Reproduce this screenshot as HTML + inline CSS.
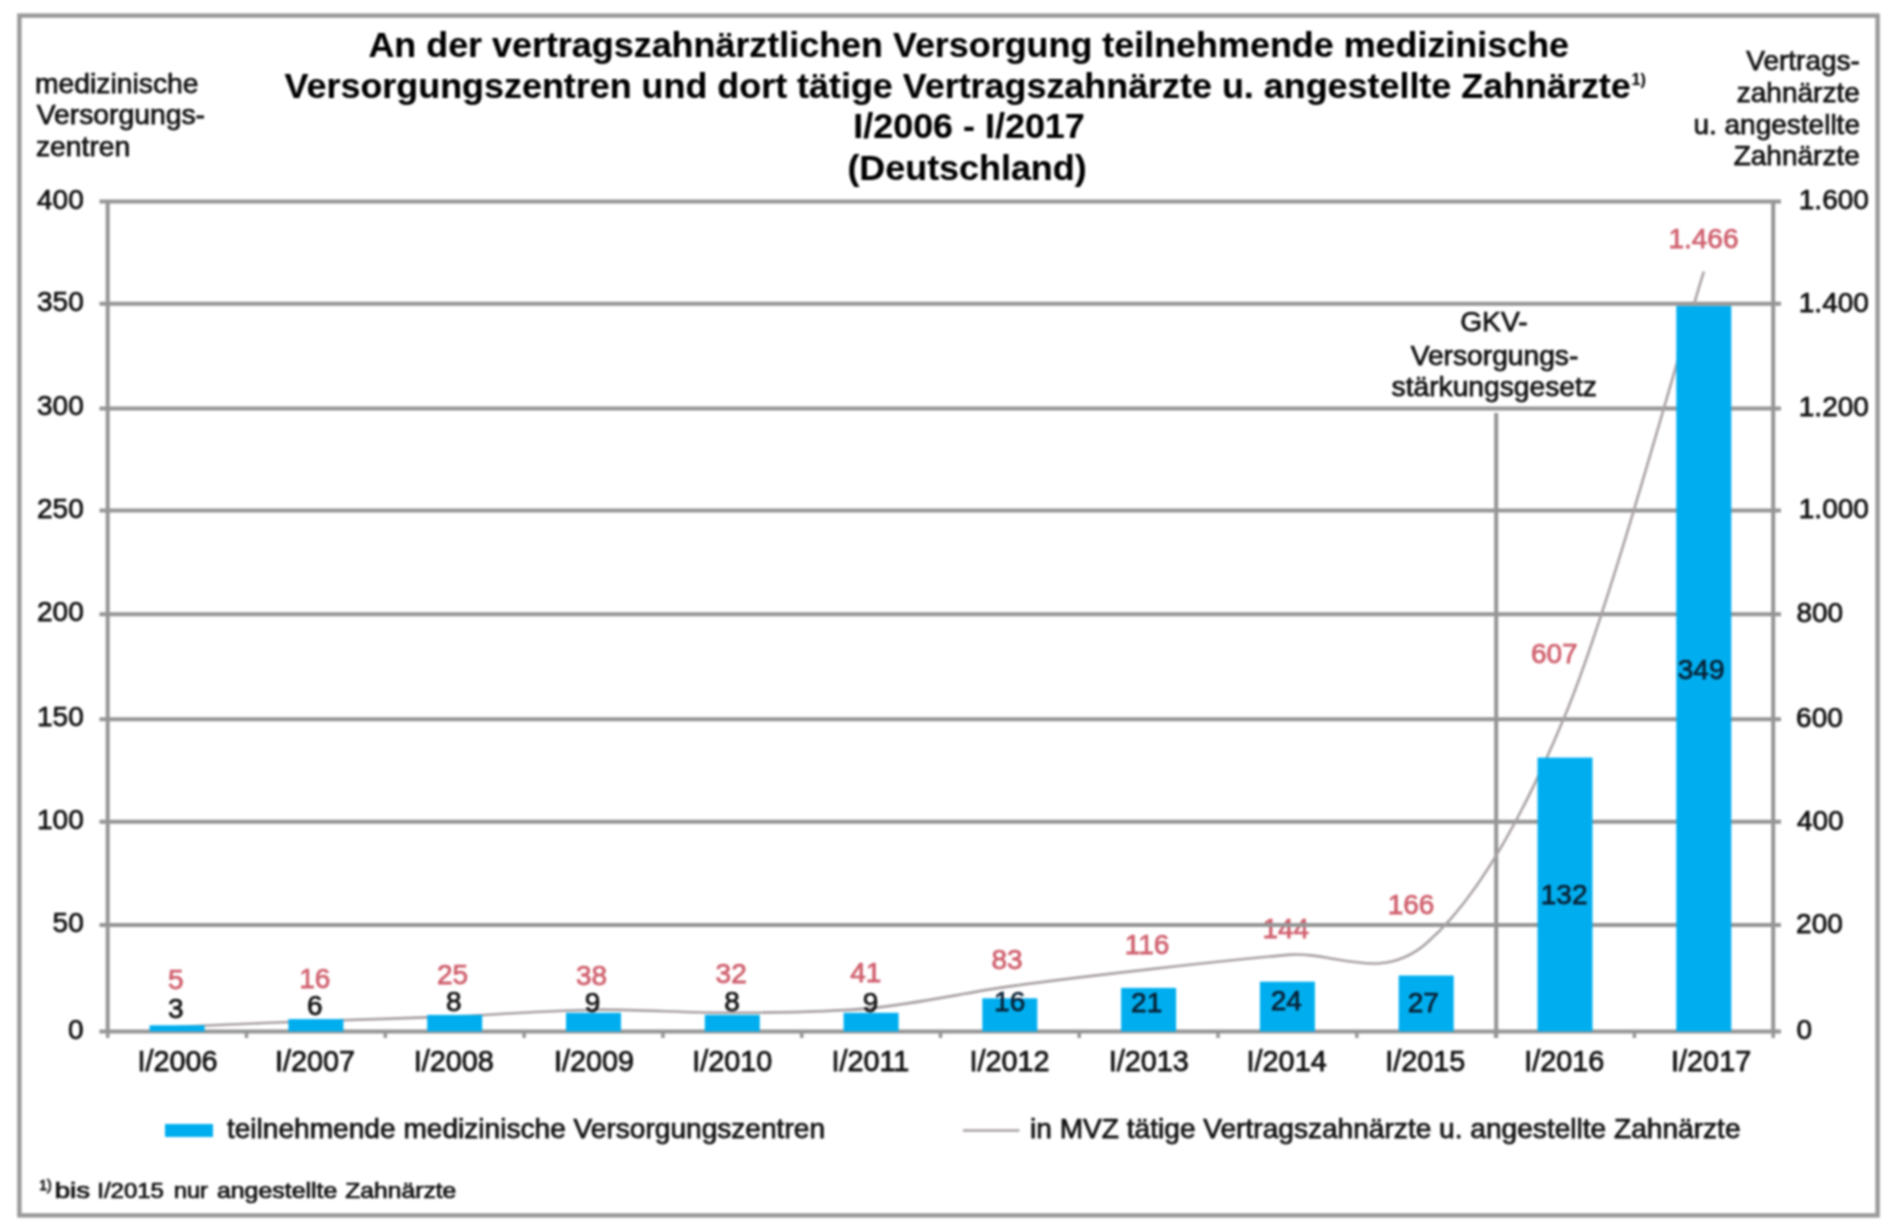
<!DOCTYPE html>
<html><head><meta charset="utf-8"><title>MVZ Zahnärzte</title>
<style>
html,body{margin:0;padding:0;background:#fff;}
body{width:1900px;height:1229px;overflow:hidden;}
svg{display:block;font-family:"Liberation Sans", sans-serif;filter:blur(0.9px);}
</style></head><body>
<svg width="1900" height="1229" viewBox="0 0 1900 1229">
<rect width="1900" height="1229" fill="#fff"/>
<rect x="19.4" y="15.6" width="1858.2" height="1199.8" fill="none" stroke="#999" stroke-width="4.4"/>
<line x1="99.5" y1="1031.5" x2="1781" y2="1031.5" stroke="#959595" stroke-width="4.0"/>
<line x1="99.5" y1="925" x2="1781" y2="925" stroke="#959595" stroke-width="4.0"/>
<line x1="99.5" y1="821.8" x2="1781" y2="821.8" stroke="#959595" stroke-width="4.0"/>
<line x1="99.5" y1="719.3" x2="1781" y2="719.3" stroke="#959595" stroke-width="4.0"/>
<line x1="99.5" y1="614.3" x2="1781" y2="614.3" stroke="#959595" stroke-width="4.0"/>
<line x1="99.5" y1="510.6" x2="1781" y2="510.6" stroke="#959595" stroke-width="4.0"/>
<line x1="99.5" y1="408.4" x2="1781" y2="408.4" stroke="#959595" stroke-width="4.0"/>
<line x1="99.5" y1="303.7" x2="1781" y2="303.7" stroke="#959595" stroke-width="4.0"/>
<line x1="99.5" y1="201.6" x2="1781" y2="201.6" stroke="#959595" stroke-width="4.0"/>
<line x1="107.7" y1="1031.5" x2="107.7" y2="1038.0" stroke="#959595" stroke-width="3.5"/>
<line x1="246.5" y1="1031.5" x2="246.5" y2="1038.0" stroke="#959595" stroke-width="3.5"/>
<line x1="385.3" y1="1031.5" x2="385.3" y2="1038.0" stroke="#959595" stroke-width="3.5"/>
<line x1="524.1" y1="1031.5" x2="524.1" y2="1038.0" stroke="#959595" stroke-width="3.5"/>
<line x1="662.9" y1="1031.5" x2="662.9" y2="1038.0" stroke="#959595" stroke-width="3.5"/>
<line x1="801.7" y1="1031.5" x2="801.7" y2="1038.0" stroke="#959595" stroke-width="3.5"/>
<line x1="940.5" y1="1031.5" x2="940.5" y2="1038.0" stroke="#959595" stroke-width="3.5"/>
<line x1="1079.2" y1="1031.5" x2="1079.2" y2="1038.0" stroke="#959595" stroke-width="3.5"/>
<line x1="1218.0" y1="1031.5" x2="1218.0" y2="1038.0" stroke="#959595" stroke-width="3.5"/>
<line x1="1356.8" y1="1031.5" x2="1356.8" y2="1038.0" stroke="#959595" stroke-width="3.5"/>
<line x1="1495.6" y1="1031.5" x2="1495.6" y2="1038.0" stroke="#959595" stroke-width="3.5"/>
<line x1="1634.4" y1="1031.5" x2="1634.4" y2="1038.0" stroke="#959595" stroke-width="3.5"/>
<line x1="1773.2" y1="1031.5" x2="1773.2" y2="1038.0" stroke="#959595" stroke-width="3.5"/>
<line x1="107.7" y1="200.2" x2="107.7" y2="1033.0" stroke="#959595" stroke-width="4.0"/>
<line x1="1773.2" y1="200.2" x2="1773.2" y2="1033.0" stroke="#959595" stroke-width="4.0"/>
<line x1="1496.2" y1="413" x2="1496.2" y2="1038" stroke="#959595" stroke-width="4.0"/>
<path d="M177.1,1026.7 C200.2,1025.8 269.6,1022.8 315.9,1021.0 C362.2,1019.3 408.4,1018.3 454.7,1016.4 C500.9,1014.5 547.2,1010.3 593.5,1009.7 C639.7,1009.1 686.0,1013.0 732.3,1012.8 C778.5,1012.5 824.8,1012.5 871.1,1008.1 C917.3,1003.7 963.6,992.9 1009.8,986.4 C1056.1,979.9 1102.4,974.6 1148.6,969.4 C1194.9,964.1 1241.2,959.2 1287.4,954.9 C1333.7,950.6 1380.0,983.4 1426.2,943.5 C1472.5,903.6 1518.7,827.6 1565.0,715.6 C1611.3,603.6 1680.7,345.7 1703.8,271.7" fill="none" stroke="#a9a1a3" stroke-width="2.6" stroke-linejoin="round"/>
<rect x="149.6" y="1025.3" width="55" height="6.2" fill="#00aeef"/>
<rect x="288.4" y="1019.1" width="55" height="12.4" fill="#00aeef"/>
<rect x="427.2" y="1014.9" width="55" height="16.6" fill="#00aeef"/>
<rect x="566.0" y="1012.8" width="55" height="18.7" fill="#00aeef"/>
<rect x="704.8" y="1014.9" width="55" height="16.6" fill="#00aeef"/>
<rect x="843.6" y="1012.8" width="55" height="18.7" fill="#00aeef"/>
<rect x="982.3" y="998.3" width="55" height="33.2" fill="#00aeef"/>
<rect x="1121.1" y="987.9" width="55" height="43.6" fill="#00aeef"/>
<rect x="1259.9" y="981.7" width="55" height="49.8" fill="#00aeef"/>
<rect x="1398.7" y="975.5" width="55" height="56.0" fill="#00aeef"/>
<rect x="1537.5" y="757.6" width="55" height="273.9" fill="#00aeef"/>
<rect x="1676.3" y="306.0" width="55" height="725.5" fill="#00aeef"/>
<rect x="165" y="1124" width="48" height="13" fill="#00aeef"/>
<line x1="963" y1="1130.5" x2="1019.5" y2="1130.5" stroke="#a9a1a3" stroke-width="2.6"/>
<text x="368.4" y="57.4" font-size="35.9" font-weight="bold" fill="#000" stroke="#000" stroke-width="0.15">An der vertragszahnärztlichen Versorgung teilnehmende medizinische</text>
<text x="284.6" y="98.4" font-size="35.9" font-weight="bold" fill="#000" stroke="#000" stroke-width="0.15">Versorgungszentren und dort tätige Vertragszahnärzte u. angestellte Zahnärzte</text>
<text x="1631.6" y="84.6" font-size="16" font-weight="bold" fill="#000" stroke="#000" stroke-width="0.15">1)</text>
<text x="853.3" y="137.6" font-size="35.9" font-weight="bold" fill="#000" stroke="#000" stroke-width="0.15">I/2006 - I/2017</text>
<text x="847.4" y="179.6" font-size="35.9" font-weight="bold" fill="#000" stroke="#000" stroke-width="0.15">(Deutschland)</text>
<text x="35.0" y="92.7" font-size="28.3" font-weight="normal" fill="#111" stroke="#111" stroke-width="0.75">medizinische</text>
<text x="36.7" y="124.2" font-size="28.3" font-weight="normal" fill="#111" stroke="#111" stroke-width="0.75">Versorgungs-</text>
<text x="35.9" y="156.3" font-size="28.3" font-weight="normal" fill="#111" stroke="#111" stroke-width="0.75">zentren</text>
<text x="1746.3" y="69.8" font-size="28.0" font-weight="normal" fill="#111" stroke="#111" stroke-width="0.75">Vertrags-</text>
<text x="1736.8" y="102.0" font-size="28.0" font-weight="normal" fill="#111" stroke="#111" stroke-width="0.75">zahnärzte</text>
<text x="1693.4" y="133.6" font-size="28.0" font-weight="normal" fill="#111" stroke="#111" stroke-width="0.75">u. angestellte</text>
<text x="1733.7" y="164.6" font-size="28.0" font-weight="normal" fill="#111" stroke="#111" stroke-width="0.75">Zahnärzte</text>
<text x="68.0" y="1038.5" font-size="28.0" font-weight="normal" fill="#111" stroke="#111" stroke-width="0.75">0</text>
<text x="52.6" y="932.0" font-size="28.0" font-weight="normal" fill="#111" stroke="#111" stroke-width="0.75">50</text>
<text x="37.0" y="828.8" font-size="28.0" font-weight="normal" fill="#111" stroke="#111" stroke-width="0.75">100</text>
<text x="37.0" y="726.3" font-size="28.0" font-weight="normal" fill="#111" stroke="#111" stroke-width="0.75">150</text>
<text x="37.0" y="621.3" font-size="28.0" font-weight="normal" fill="#111" stroke="#111" stroke-width="0.75">200</text>
<text x="37.0" y="517.6" font-size="28.0" font-weight="normal" fill="#111" stroke="#111" stroke-width="0.75">250</text>
<text x="37.0" y="415.4" font-size="28.0" font-weight="normal" fill="#111" stroke="#111" stroke-width="0.75">300</text>
<text x="37.0" y="310.7" font-size="28.0" font-weight="normal" fill="#111" stroke="#111" stroke-width="0.75">350</text>
<text x="37.0" y="208.6" font-size="28.0" font-weight="normal" fill="#111" stroke="#111" stroke-width="0.75">400</text>
<text x="1796.4" y="1039.3" font-size="28.0" font-weight="normal" fill="#111" stroke="#111" stroke-width="0.75">0</text>
<text x="1796.1" y="932.8" font-size="28.0" font-weight="normal" fill="#111" stroke="#111" stroke-width="0.75">200</text>
<text x="1796.9" y="829.6" font-size="28.0" font-weight="normal" fill="#111" stroke="#111" stroke-width="0.75">400</text>
<text x="1796.1" y="727.1" font-size="28.0" font-weight="normal" fill="#111" stroke="#111" stroke-width="0.75">600</text>
<text x="1796.4" y="622.1" font-size="28.0" font-weight="normal" fill="#111" stroke="#111" stroke-width="0.75">800</text>
<text x="1798.8" y="518.4" font-size="28.0" font-weight="normal" fill="#111" stroke="#111" stroke-width="0.75">1.000</text>
<text x="1798.8" y="416.2" font-size="28.0" font-weight="normal" fill="#111" stroke="#111" stroke-width="0.75">1.200</text>
<text x="1798.8" y="311.5" font-size="28.0" font-weight="normal" fill="#111" stroke="#111" stroke-width="0.75">1.400</text>
<text x="1798.8" y="209.4" font-size="28.0" font-weight="normal" fill="#111" stroke="#111" stroke-width="0.75">1.600</text>
<text x="137.5" y="1071.0" font-size="28.8" font-weight="normal" fill="#111" stroke="#111" stroke-width="0.75">I/2006</text>
<text x="274.9" y="1071.0" font-size="28.8" font-weight="normal" fill="#111" stroke="#111" stroke-width="0.75">I/2007</text>
<text x="413.7" y="1071.0" font-size="28.8" font-weight="normal" fill="#111" stroke="#111" stroke-width="0.75">I/2008</text>
<text x="553.9" y="1071.0" font-size="28.8" font-weight="normal" fill="#111" stroke="#111" stroke-width="0.75">I/2009</text>
<text x="692.2" y="1071.0" font-size="28.8" font-weight="normal" fill="#111" stroke="#111" stroke-width="0.75">I/2010</text>
<text x="831.4" y="1071.0" font-size="28.8" font-weight="normal" fill="#111" stroke="#111" stroke-width="0.75">I/2011</text>
<text x="969.4" y="1071.0" font-size="28.8" font-weight="normal" fill="#111" stroke="#111" stroke-width="0.75">I/2012</text>
<text x="1108.7" y="1071.0" font-size="28.8" font-weight="normal" fill="#111" stroke="#111" stroke-width="0.75">I/2013</text>
<text x="1246.6" y="1071.0" font-size="28.8" font-weight="normal" fill="#111" stroke="#111" stroke-width="0.75">I/2014</text>
<text x="1385.2" y="1071.0" font-size="28.8" font-weight="normal" fill="#111" stroke="#111" stroke-width="0.75">I/2015</text>
<text x="1524.2" y="1071.0" font-size="28.8" font-weight="normal" fill="#111" stroke="#111" stroke-width="0.75">I/2016</text>
<text x="1671.1" y="1071.0" font-size="28.8" font-weight="normal" fill="#111" stroke="#111" stroke-width="0.75">I/2017</text>
<text x="1460.2" y="330.9" font-size="28.2" font-weight="normal" fill="#111" stroke="#111" stroke-width="0.75">GKV-</text>
<text x="1410.7" y="364.8" font-size="28.2" font-weight="normal" fill="#111" stroke="#111" stroke-width="0.75">Versorgungs-</text>
<text x="1391.6" y="396.2" font-size="28.2" font-weight="normal" fill="#111" stroke="#111" stroke-width="0.75">stärkungsgesetz</text>
<text x="168.1" y="1018.2" font-size="28.0" font-weight="normal" fill="#111" stroke="#111" stroke-width="0.75">3</text>
<text x="307.1" y="1014.7" font-size="28.0" font-weight="normal" fill="#111" stroke="#111" stroke-width="0.75">6</text>
<text x="446.0" y="1011.0" font-size="28.0" font-weight="normal" fill="#111" stroke="#111" stroke-width="0.75">8</text>
<text x="584.8" y="1012.0" font-size="28.0" font-weight="normal" fill="#111" stroke="#111" stroke-width="0.75">9</text>
<text x="724.2" y="1011.0" font-size="28.0" font-weight="normal" fill="#111" stroke="#111" stroke-width="0.75">8</text>
<text x="862.7" y="1012.0" font-size="28.0" font-weight="normal" fill="#111" stroke="#111" stroke-width="0.75">9</text>
<text x="994.1" y="1011.0" font-size="28.0" font-weight="normal" fill="#0a2236" stroke="#0a2236" stroke-width="0.75">16</text>
<text x="1131.1" y="1011.6" font-size="28.0" font-weight="normal" fill="#0a2236" stroke="#0a2236" stroke-width="0.75">21</text>
<text x="1270.7" y="1009.8" font-size="28.0" font-weight="normal" fill="#0a2236" stroke="#0a2236" stroke-width="0.75">24</text>
<text x="1407.8" y="1011.6" font-size="28.0" font-weight="normal" fill="#0a2236" stroke="#0a2236" stroke-width="0.75">27</text>
<text x="1540.8" y="904.0" font-size="28.0" font-weight="normal" fill="#0a2236" stroke="#0a2236" stroke-width="0.75">132</text>
<text x="1677.8" y="678.8" font-size="28.0" font-weight="normal" fill="#0a2236" stroke="#0a2236" stroke-width="0.75">349</text>
<text x="168.1" y="988.5" font-size="28.0" font-weight="normal" fill="#cf5f6d" stroke="#cf5f6d" stroke-width="0.75">5</text>
<text x="299.3" y="988.3" font-size="28.0" font-weight="normal" fill="#cf5f6d" stroke="#cf5f6d" stroke-width="0.75">16</text>
<text x="436.9" y="983.7" font-size="28.0" font-weight="normal" fill="#cf5f6d" stroke="#cf5f6d" stroke-width="0.75">25</text>
<text x="576.0" y="985.3" font-size="28.0" font-weight="normal" fill="#cf5f6d" stroke="#cf5f6d" stroke-width="0.75">38</text>
<text x="715.6" y="982.6" font-size="28.0" font-weight="normal" fill="#cf5f6d" stroke="#cf5f6d" stroke-width="0.75">32</text>
<text x="850.2" y="981.6" font-size="28.0" font-weight="normal" fill="#cf5f6d" stroke="#cf5f6d" stroke-width="0.75">41</text>
<text x="991.5" y="968.8" font-size="28.0" font-weight="normal" fill="#cf5f6d" stroke="#cf5f6d" stroke-width="0.75">83</text>
<text x="1124.7" y="954.3" font-size="28.0" font-weight="normal" fill="#cf5f6d" stroke="#cf5f6d" stroke-width="0.75">116</text>
<text x="1262.4" y="937.8" font-size="28.0" font-weight="normal" fill="#cf5f6d" stroke="#cf5f6d" stroke-width="0.75">144</text>
<text x="1387.7" y="914.3" font-size="28.0" font-weight="normal" fill="#cf5f6d" stroke="#cf5f6d" stroke-width="0.75">166</text>
<text x="1530.9" y="663.0" font-size="28.0" font-weight="normal" fill="#cf5f6d" stroke="#cf5f6d" stroke-width="0.75">607</text>
<text x="1668.4" y="247.7" font-size="28.0" font-weight="normal" fill="#cf5f6d" stroke="#cf5f6d" stroke-width="0.75">1.466</text>
<text x="226.9" y="1137.9" font-size="28.1" font-weight="normal" fill="#111" stroke="#111" stroke-width="0.75">teilnehmende medizinische Versorgungszentren</text>
<text x="1030.0" y="1137.9" font-size="28.1" font-weight="normal" fill="#111" stroke="#111" stroke-width="0.75">in MVZ tätige Vertragszahnärzte u. angestellte Zahnärzte</text>
<text x="39.3" y="1189.5" font-size="14" font-weight="normal" fill="#111" stroke="#111" stroke-width="0.75">1)</text>
<text transform="translate(54.7,1197.6) scale(1.2880,1)" font-size="21.5" font-weight="normal" fill="#111" stroke="#111" stroke-width="0.75">bis</text>
<text transform="translate(97.3,1197.6) scale(1.1145,1)" font-size="21.5" font-weight="normal" fill="#111" stroke="#111" stroke-width="0.75">I/2015</text>
<text transform="translate(173.9,1197.6) scale(1.0876,1)" font-size="21.5" font-weight="normal" fill="#111" stroke="#111" stroke-width="0.75">nur</text>
<text transform="translate(216.9,1197.6) scale(1.1584,1)" font-size="21.5" font-weight="normal" fill="#111" stroke="#111" stroke-width="0.75">angestellte</text>
<text transform="translate(345.3,1197.6) scale(1.1476,1)" font-size="21.5" font-weight="normal" fill="#111" stroke="#111" stroke-width="0.75">Zahnärzte</text>
<line x1="1262" y1="925" x2="1312" y2="925" stroke="#959595" stroke-width="4.0"/>
</svg>
</body></html>
